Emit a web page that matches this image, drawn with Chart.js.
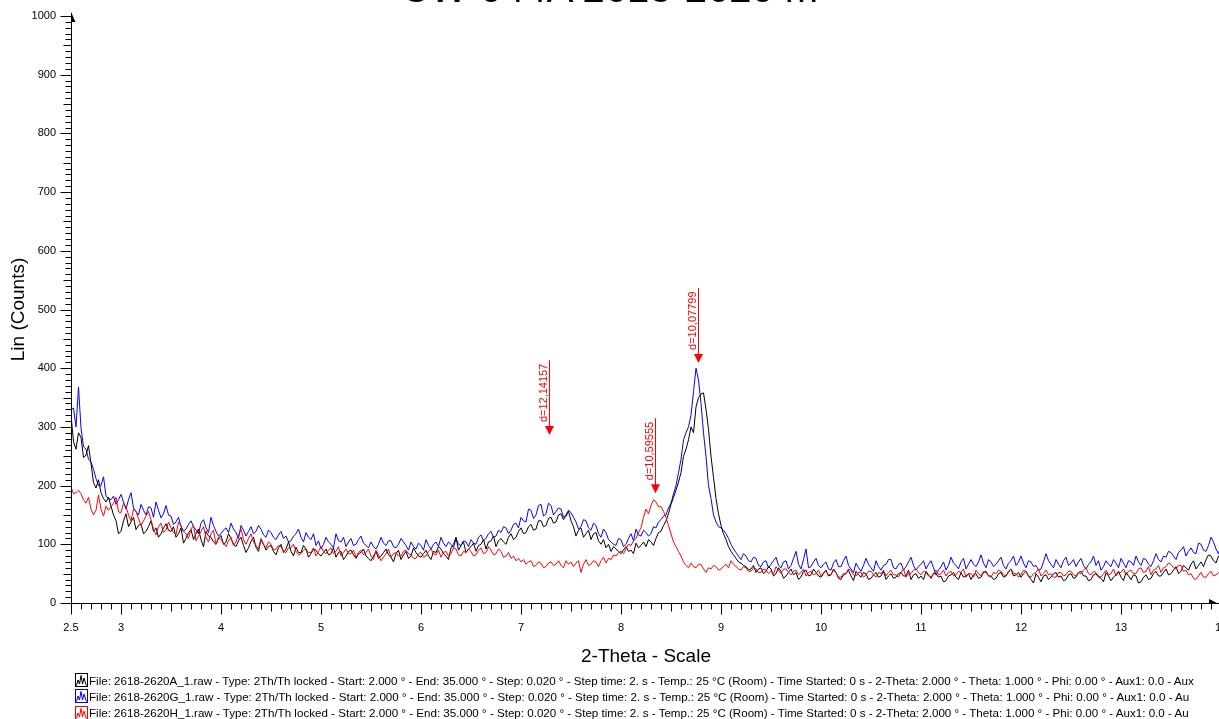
<!DOCTYPE html>
<html><head><meta charset="utf-8">
<script src="https://cdn.jsdelivr.net/npm/chart.js@4.4.1/dist/chart.umd.min.js"></script>
<style>
html,body{margin:0;padding:0;background:#fff;overflow:hidden;}
#wrap{position:relative;width:1219px;height:719px;overflow:hidden;background:#fff;}
canvas{position:absolute;left:0;top:0;}
#title{position:absolute;left:0;top:-32px;width:1219px;text-align:center;font-family:'Liberation Sans',Arial,sans-serif;font-size:40px;line-height:40px;color:#000;white-space:nowrap;}
#legend{position:absolute;left:75px;top:672px;font-family:'Liberation Sans',Arial,sans-serif;font-size:11.6px;color:#000;white-space:nowrap;}
#legend .row{height:16.3px;display:flex;align-items:center;}
#legend svg{flex:none;margin-right:1px;}
</style></head>
<body><div id="wrap">
<canvas id="c" width="1240" height="719"></canvas>
<div id="title">CW-044A 2618-2620 m</div>
<div id="legend"></div>
</div>
<script>
// ---- data ----
const START = 2.5, STEP = 0.025;   // 2-Theta sampling of the digitised scans
const countsA = [
320,275,262,290,282,248,252,268,238,205,196,210,188,178,172,180,165,150,140,118,
122,140,152,130,138,146,125,132,135,118,122,130,140,122,128,112,118,128,135,124,
122,130,112,118,128,102,110,120,125,108,118,126,108,96,122,114,112,104,100,110,
115,100,104,118,110,100,96,106,112,98,86,94,105,112,95,88,108,100,90,96,
98,88,82,94,100,86,92,104,88,80,95,86,86,98,92,78,84,92,90,84,
80,86,92,82,84,94,78,86,88,74,80,88,90,82,76,84,86,92,80,76,
72,80,88,76,80,86,92,82,78,70,84,90,74,82,88,76,80,94,86,80,
78,84,90,80,74,88,86,96,92,84,80,74,94,100,112,90,98,104,86,92,
96,102,88,98,100,108,92,104,106,114,96,106,110,104,100,112,118,108,112,122,
128,118,120,130,134,124,126,140,140,130,132,144,146,136,138,150,152,142,148,156,
140,130,114,124,128,112,118,124,108,118,120,106,100,108,94,100,88,96,92,88,
84,90,96,88,90,84,102,94,98,104,96,108,104,98,110,120,122,132,140,152,
168,180,192,206,222,250,262,278,300,290,334,350,356,358,330,296,250,214,178,152,
132,118,108,96,88,82,76,70,68,64,62,56,58,64,52,58,60,50,54,62,
58,46,50,60,54,42,46,52,58,48,52,40,44,54,56,46,48,58,52,46,
44,50,56,46,48,58,52,42,40,48,50,56,46,38,54,48,44,52,50,40,
42,48,52,44,46,54,40,46,50,42,44,50,52,46,46,56,40,48,50,42,
46,40,54,48,42,50,50,44,46,36,38,46,48,52,44,40,52,44,46,50,
40,48,50,42,44,52,54,46,46,40,42,50,52,44,46,54,58,46,48,52,
44,50,54,46,40,34,50,44,36,46,48,40,44,50,52,44,46,38,40,48,
50,42,44,52,54,46,46,38,40,48,50,44,42,36,52,46,38,44,48,54,
44,38,52,46,40,48,46,34,36,44,48,40,42,50,54,46,46,52,58,48,
50,56,62,50,54,64,60,56,66,72,58,64,70,62,74,82,80,72,68,80,
76];
const countsG = [
330,332,300,368,298,266,262,245,240,228,212,200,200,215,182,178,176,182,168,176,
185,172,160,176,188,162,156,150,168,158,150,164,162,146,172,158,145,152,166,150,
148,134,138,146,130,122,126,134,140,130,124,118,136,142,128,120,146,132,122,114,
118,124,128,120,136,126,120,110,132,124,114,122,130,118,122,132,126,116,112,124,
120,112,108,116,122,110,114,104,106,114,118,126,112,104,120,112,108,118,98,106,
92,100,112,104,100,94,118,106,104,112,96,104,110,98,100,108,114,102,98,94,
104,96,92,100,112,102,98,106,106,96,94,100,110,104,98,90,104,96,92,102,
98,90,108,98,92,100,104,96,112,102,96,104,100,94,110,100,98,106,104,96,
108,102,100,112,116,106,110,118,122,112,114,124,120,130,128,118,124,134,136,128,
146,140,138,160,158,144,150,166,168,148,152,170,166,150,156,162,160,146,150,158,
154,146,138,126,130,142,140,128,124,136,132,118,112,126,120,108,104,100,98,110,
108,96,100,110,118,106,126,116,114,124,120,114,118,130,128,138,142,148,150,162,
170,186,200,222,245,278,290,300,320,360,400,380,340,290,250,200,178,150,138,130,
128,124,118,110,100,92,86,80,74,84,80,72,70,78,76,64,62,70,72,60,
66,72,78,64,60,70,72,58,64,76,88,66,58,74,92,60,62,70,76,64,
60,66,70,58,56,68,74,62,62,72,80,64,58,52,68,60,54,64,76,66,
60,54,72,62,56,64,66,74,74,60,58,66,68,56,62,70,78,64,56,62,
66,72,58,66,72,60,48,56,62,70,56,64,78,68,64,58,70,76,58,66,
74,66,62,70,82,68,60,74,70,62,66,72,78,64,58,68,72,80,64,70,
80,68,60,72,70,62,64,56,58,70,84,72,66,60,74,66,60,72,78,64,
68,74,62,70,76,64,58,66,70,80,64,72,56,62,72,66,62,74,68,60,
76,68,60,72,70,64,80,70,64,76,74,66,62,72,84,74,70,80,78,88,
86,80,74,86,90,96,80,88,94,86,84,102,100,90,88,98,112,104,92,84,
98];
const countsH = [
198,186,188,192,186,176,170,180,160,150,158,184,160,148,165,158,164,170,180,155,
154,170,164,150,140,160,156,144,132,140,148,156,142,126,116,130,136,120,124,138,
128,120,116,138,132,122,118,110,126,132,106,114,122,130,112,104,118,124,100,112,
108,102,96,106,112,98,104,116,126,108,100,110,118,104,98,92,110,100,94,104,
100,90,92,98,96,88,86,94,94,100,88,82,84,90,92,86,86,94,80,88,
96,88,84,90,94,84,88,96,80,86,92,84,84,90,78,86,90,82,86,92,
80,74,90,82,72,78,84,92,78,84,86,80,80,88,90,84,82,76,76,84,
86,78,80,88,92,84,82,90,78,86,88,80,84,94,92,82,80,88,86,92,
88,80,82,90,94,84,86,96,90,82,84,92,88,78,80,86,76,80,72,76,
70,74,66,70,72,62,64,70,68,60,62,68,70,64,66,72,64,60,72,66,
70,62,68,72,52,66,74,64,66,72,70,62,72,78,68,76,74,82,80,86,
88,84,92,100,98,106,110,120,128,146,160,152,166,176,172,164,164,156,146,132,
118,104,96,88,80,70,64,60,68,62,60,66,66,58,52,60,58,64,62,56,
58,62,66,60,72,66,62,58,56,62,60,54,54,60,58,52,52,58,56,50,
54,48,62,56,50,58,58,52,48,54,56,48,52,58,46,52,54,48,50,56,
46,52,54,48,48,56,52,44,44,50,50,58,56,48,46,52,52,44,48,54,
54,48,44,52,50,56,46,52,56,48,48,44,52,58,44,50,50,56,58,52,
48,54,52,46,44,50,56,48,50,56,46,52,54,46,48,54,52,58,44,50,
50,44,56,50,46,54,52,46,44,52,50,56,54,48,46,52,58,50,50,44,
48,56,54,46,44,50,52,58,46,50,56,48,50,44,44,52,52,46,48,54,
54,48,46,52,50,56,60,50,48,54,52,46,44,50,56,48,50,58,46,52,
52,58,48,54,56,50,50,58,60,52,54,62,48,56,58,64,52,60,62,68,
66,60,58,64,64,54,56,48,50,42,40,46,52,44,44,50,54,46,48,52,
50];
const xTickValues = [2.5,3,4,5,6,7,8,9,10,11,12,13,14];
const xMinorStep = 0.1;
const yMinorStep = 10;
const seriesColors = ['#000000','#0000ff','#ff0000'];
const seriesNames = ['2618-2620A_1.raw','2618-2620G_1.raw','2618-2620H_1.raw'];
const legendTexts = [
 'File: 2618-2620A_1.raw - Type: 2Th/Th locked - Start: 2.000 ° - End: 35.000 ° - Step: 0.020 ° - Step time: 2. s - Temp.: 25 °C (Room) - Time Started: 0 s - 2-Theta: 2.000 ° - Theta: 1.000 ° - Phi: 0.00 ° - Aux1: 0.0 - Aux',
 'File: 2618-2620G_1.raw - Type: 2Th/Th locked - Start: 2.000 ° - End: 35.000 ° - Step: 0.020 ° - Step time: 2. s - Temp.: 25 °C (Room) - Time Started: 0 s - 2-Theta: 2.000 ° - Theta: 1.000 ° - Phi: 0.00 ° - Aux1: 0.0 - Au',
 'File: 2618-2620H_1.raw - Type: 2Th/Th locked - Start: 2.000 ° - End: 35.000 ° - Step: 0.020 ° - Step time: 2. s - Temp.: 25 °C (Room) - Time Started: 0 s - 2-Theta: 2.000 ° - Theta: 1.000 ° - Phi: 0.00 ° - Aux1: 0.0 - Au'
];
const peakPos = [7.275, 8.338, 8.767];
const peakTip = [286, 187, 409];
const peakLabel = ['d=12,14157', 'd=10,59555', 'd=10,07799'];

// ---- build ----
const twoTheta = countsA.map((_, i) => Math.round((START + i * STEP) * 1000) / 1000);
const toXY = arr => arr.map((v, i) => ({x: twoTheta[i], y: v}));

// legend (HTML)
const legendEl = document.getElementById('legend');
legendTexts.forEach((t, i) => {
  const c = seriesColors[i];
  const row = document.createElement('div');
  row.className = 'row';
  row.innerHTML = '<svg width="13" height="14" viewBox="0 0 13 14"><rect x="0.5" y="0.5" width="12" height="13" fill="none" stroke="' + c + '" stroke-width="1"/><polyline points="1.5,12.5 3,7 4.5,11 6,2.5 7.5,11 9,5 10.5,10 11.5,12.5" fill="none" stroke="' + c + '" stroke-width="1"/></svg>';
  const sp = document.createElement('span');
  sp.textContent = t;
  row.appendChild(sp);
  legendEl.appendChild(row);
});

const FONT = "'Liberation Sans', Arial, sans-serif";
Chart.defaults.font.family = FONT;

const axisDecor = {
  id: 'axisDecor',
  afterDraw(chart) {
    const {ctx, chartArea: {left, top, bottom, right}, scales: {x, y}} = chart;
    ctx.save();
    ctx.strokeStyle = '#000';
    ctx.lineWidth = 1;
    const L = Math.round(left) + 0.5, B = Math.round(bottom) + 0.5;
    ctx.beginPath();
    ctx.moveTo(L, top - 3); ctx.lineTo(L, B);
    ctx.moveTo(L, B); ctx.lineTo(right + 15, B);
    for (let v = y.min; v <= y.max + 0.001; v += yMinorStep) {
      const py = Math.round(y.getPixelForValue(v)) + 0.5;
      const len = (Math.round(v) % 100 === 0) ? 11 : (Math.round(v) % 50 === 0 ? 8 : 6);
      ctx.moveTo(L - len, py); ctx.lineTo(L, py);
    }
    const n0 = Math.round(x.min / xMinorStep), n1 = Math.round(x.max / xMinorStep);
    for (let k = n0; k <= n1; k++) {
      const v = k * xMinorStep;
      const px = Math.round(x.getPixelForValue(v)) + 0.5;
      const len = (k % 10 === 0 || k === n0) ? 11 : (k % 5 === 0 ? 8 : 6);
      ctx.moveTo(px, B); ctx.lineTo(px, B + len);
    }
    ctx.stroke();
    ctx.fillStyle = '#000';
    ctx.beginPath();
    ctx.moveTo(L - 0.5, top - 4); ctx.lineTo(L + 4, top + 6); ctx.lineTo(L - 0.5, top + 6); ctx.closePath();
    ctx.fill();
    ctx.beginPath();
    ctx.moveTo(1219, B + 0.5); ctx.lineTo(1209, B - 4.5); ctx.lineTo(1209, B + 0.5); ctx.closePath();
    ctx.fill();
    ctx.restore();
  }
};

const peakMarks = {
  id: 'peakMarks',
  afterDatasetsDraw(chart) {
    const {ctx, scales: {x, y}} = chart;
    ctx.save();
    ctx.strokeStyle = '#ff0000';
    ctx.fillStyle = '#ff0000';
    ctx.lineWidth = 1;
    ctx.font = '11px ' + FONT;
    peakPos.forEach((p, i) => {
      const px = Math.round(x.getPixelForValue(p)) + 0.5;
      const ty = y.getPixelForValue(peakTip[i]);
      ctx.beginPath();
      ctx.moveTo(px, ty - 8); ctx.lineTo(px, ty - 75);
      ctx.stroke();
      ctx.beginPath();
      ctx.moveTo(px - 4.5, ty - 9); ctx.lineTo(px + 4.5, ty - 9); ctx.lineTo(px, ty); ctx.closePath();
      ctx.fill();
      ctx.save();
      ctx.translate(px - 2.5, ty - 13);
      ctx.rotate(-Math.PI / 2);
      ctx.textAlign = 'left';
      ctx.textBaseline = 'alphabetic';
      ctx.fillText(peakLabel[i], 0, 0);
      ctx.restore();
    });
    ctx.restore();
  }
};

new Chart(document.getElementById('c'), {
  type: 'line',
  data: {
    datasets: [
      {label: seriesNames[2], data: toXY(countsH), borderColor: seriesColors[2], order: 1},
      {label: seriesNames[0], data: toXY(countsA), borderColor: seriesColors[0], order: 2},
      {label: seriesNames[1], data: toXY(countsG), borderColor: seriesColors[1], order: 3}
    ]
  },
  options: {
    responsive: false,
    animation: false,
    devicePixelRatio: 1,
    elements: {line: {borderWidth: 1, tension: 0, fill: false}, point: {radius: 0}},
    layout: {padding: {left: 0, top: 16, right: 19, bottom: 0}},
    plugins: {legend: {display: false}, tooltip: {enabled: false}, title: {display: false}},
    scales: {
      x: {
        type: 'linear', position: 'bottom', min: 2.5, max: 14,
        afterBuildTicks: s => { s.ticks = xTickValues.map(v => ({value: v})); },
        afterFit: s => { s.height = 116; },
        grid: {display: false, drawTicks: true, tickLength: 12},
        border: {display: false},
        ticks: {autoSkip: false, maxRotation: 0, minRotation: 0, padding: 6, color: '#000', font: {size: 11}, callback: v => String(v)},
        title: {display: true, text: '2-Theta - Scale', color: '#000', font: {size: 19}, padding: {top: 0, bottom: 51}}
      },
      y: {
        type: 'linear', min: 0, max: 1000,
        afterFit: s => { s.width = 71; },
        grid: {display: false, drawTicks: true, tickLength: 10},
        border: {display: false},
        ticks: {stepSize: 100, padding: 5, color: '#000', font: {size: 11}, callback: v => String(v)},
        title: {display: true, text: 'Lin (Counts)', color: '#000', font: {size: 19}, padding: {top: 7, bottom: 0}}
      }
    }
  },
  plugins: [axisDecor, peakMarks]
});
</script>
</body></html>
